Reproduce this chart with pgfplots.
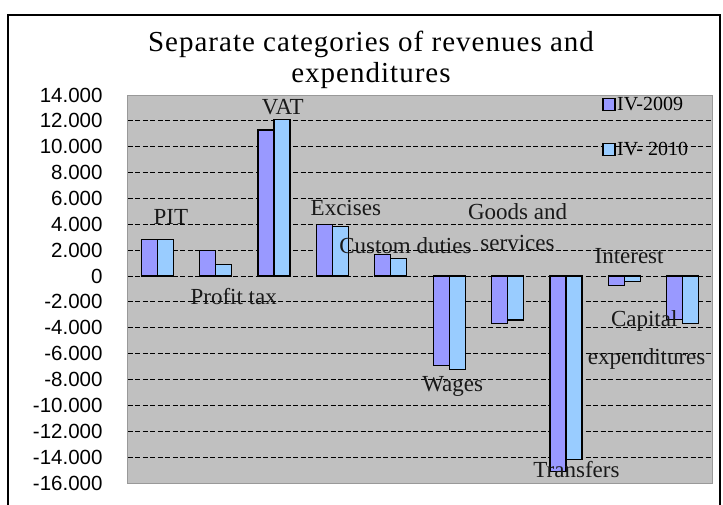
\documentclass[border=0pt]{standalone}
\usepackage{fontspec}
\setmainfont{Liberation Serif}
\newfontfamily\lblfont{Liberation Serif}
\newfontfamily\titlefont[LetterSpace=3.5]{Liberation Serif}
\newfontfamily\tickfont{Liberation Sans}
\usepackage{pgfplots}
\pgfplotsset{compat=1.18}
\definecolor{bgray}{HTML}{C0C0C0}
\definecolor{sA}{HTML}{9999FF}
\definecolor{sB}{HTML}{99CCFF}

\begin{document}
\begin{tikzpicture}
\begin{axis}[
  name=ax, at={(0,0)}, anchor=south west,
  scale only axis, width=584pt, height=388pt,
  ybar=0pt, bar width=16pt,
  xmin=-0.5, xmax=9.5, ymin=-16000, ymax=14000,
  xtick=\empty,
  scaled y ticks=false,
  ytick={-16000,-14000,-12000,-10000,-8000,-6000,-4000,-2000,0,2000,4000,6000,8000,10000,12000,14000},
  yticklabels={-16.000,-14.000,-12.000,-10.000,-8.000,-6.000,-4.000,-2.000,0,2.000,4.000,6.000,8.000,10.000,12.000,14.000},
  yticklabel style={font=\tickfont\fontsize{20.5}{22}\selectfont, xshift=-22pt},
  major tick length=0pt,
  ymajorgrids,
  grid style={black, dash pattern=on 5pt off 2.5pt, line width=0.9pt},
  axis background/.style={fill=bgray},
  axis line style={gray!80, line width=1pt},
  legend style={at={(0.812,0.998)}, anchor=north west, draw=none, fill=none,
    font=\lblfont\fontsize{20}{20}\selectfont, row sep=27pt, inner sep=0pt,
    nodes={inner sep=1.5pt}},
  legend cell align=left,
  legend image code/.code={\draw[#1, line width=1.2pt] (0pt,-6pt) rectangle (12pt,6pt);},
]
\addplot[fill=sA, draw=black, line width=1.2pt] coordinates {
  (0,2800) (1,2000) (2,11300) (3,4000) (4,1650) (5,-6900) (6,-3650) (7,-15100) (8,-750) (9,-3350)
};
\addlegendentry{IV-2009}
\addplot[fill=sB, draw=black, line width=1.2pt] coordinates {
  (0,2800) (1,900) (2,12100) (3,3850) (4,1350) (5,-7200) (6,-3400) (7,-14200) (8,-450) (9,-3650)
};
\addlegendentry{IV- 2010}

\begin{scope}[every node/.style={font=\lblfont\fontsize{23}{24}\selectfont, text=black!90, align=center, inner sep=0pt}]
\node at (axis cs:0.235,4550) {PIT};
\node at (axis cs:1.31,-1560) {Profit tax};
\node at (axis cs:2.15,13100) {VAT};
\node at (axis cs:3.23,5300) {Excises};
\node at (axis cs:4.25,2380) {Custom duties};
\node at (axis cs:5.06,-8530) {Wages};
\node at (axis cs:6.17,5000) {Goods and};
\node at (axis cs:6.17,2550) {services};
\node at (axis cs:7.18,-14950) {Transfers};
\node at (axis cs:8.08,1530) {Interest};
\node at (axis cs:8.34,-3500) {Capital};
\node at (axis cs:8.38,-6440) {expenditures};
\end{scope}
\end{axis}
\node[font=\titlefont\fontsize{29}{31}\selectfont, anchor=base] at ([shift={(243pt,431pt)}]ax.south west) {Separate categories of revenues and};
\node[font=\titlefont\fontsize{29}{31}\selectfont, anchor=base] at ([shift={(243pt,400pt)}]ax.south west) {expenditures};
\draw[line width=1.3pt] ([shift={(-120pt,-30pt)}]ax.south west) rectangle ([shift={(592pt,468pt)}]ax.south west);
\pgfresetboundingbox
\path[use as bounding box] ([shift={(-128pt,-21pt)}]ax.south west) rectangle ([shift={(595pt,483pt)}]ax.south west);
\end{tikzpicture}
\end{document}
